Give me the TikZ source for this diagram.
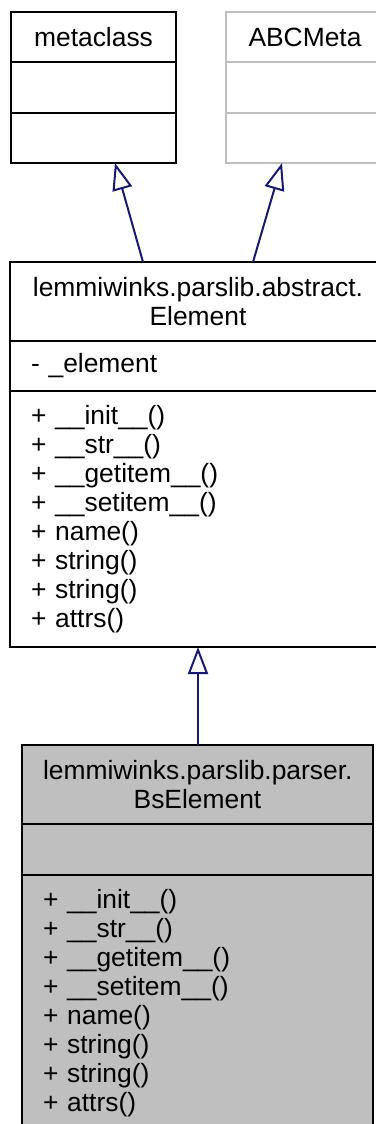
\documentclass[tikz,border=0pt]{standalone}
\usepackage{fontspec}
\setmainfont{Liberation Sans}
\usetikzlibrary{arrows.meta, positioning, calc}
\definecolor{edgeblue}{HTML}{191970}
\definecolor{greyfill}{HTML}{BFBFBF}

\begin{document}
\begin{tikzpicture}[
  x=1pt, y=1pt,
  every node/.style={font=\fontsize{26.4}{29}\selectfont},
  umltitle/.style={
    rectangle, draw, line width=2.5pt, outer sep=0pt,
    inner xsep=21pt, inner ysep=0pt,
    align=center, text width=#1,
  },
  umlpart/.style={
    rectangle, draw, line width=2.5pt, outer sep=0pt,
    inner xsep=21pt, inner ysep=0pt,
    align=left, text width=#1,
  },
  external/.style={draw=greyfill},
  current/.style={fill=greyfill},
  inherit/.style={-{Triangle[open, length=27pt, width=20pt]}, line width=2pt, color=edgeblue},
]
\useasboundingbox (0,0) rectangle (375,-1124);

% Row 1 — base classes
\node[umltitle=123, minimum height=50] (metatitle) at (93.5,-37) {metaclass};
\node[umlpart=123, minimum height=51, below=0pt of metatitle] (metaattr) {};
\node[umlpart=123, minimum height=50, below=0pt of metaattr]  (metaops)  {};

\node[umltitle=116, external, minimum height=50] (abctitle) at (305,-37) {ABCMeta};
\node[umlpart=116, external, minimum height=51, below=0pt of abctitle] (abcattr) {};
\node[umlpart=116, external, minimum height=50, below=0pt of abcattr]  (abcops)  {};

% Row 2 — abstract element
\node[umltitle=334, minimum height=79] (elemtitle) at (198,-301.5)
  {lemmiwinks.parslib.abstract.\\Element};
\node[umlpart=334, minimum height=50, below=0pt of elemtitle] (elemattr) {- \_element};
\node[umlpart=334, minimum height=256, below=0pt of elemattr] (elemops)
  {+ \_\_init\_\_()\\+ \_\_str\_\_()\\+ \_\_getitem\_\_()\\+ \_\_setitem\_\_()\\%
   + name()\\+ string()\\+ string()\\+ attrs()};

% Row 3 — parser element
\node[umltitle=309, current, minimum height=79] (bstitle) at (197.5,-784.5)
  {lemmiwinks.parslib.parser.\\BsElement};
\node[umlpart=309, current, minimum height=51, below=0pt of bstitle] (bsattr) {};
\node[umlpart=309, current, minimum height=256, below=0pt of bsattr] (bsops)
  {+ \_\_init\_\_()\\+ \_\_str\_\_()\\+ \_\_getitem\_\_()\\+ \_\_setitem\_\_()\\%
   + name()\\+ string()\\+ string()\\+ attrs()};

% Arrows — inheritance
\draw[inherit] ($(elemtitle.north)+(-55,0)$) -- ($(metaops.south)+(21.5,0)$);
\draw[inherit] ($(elemtitle.north)+(55,0)$)  -- ($(abcops.south)+(-23,0)$);
\draw[inherit] ($(bstitle.north)+(0.5,0)$)   -- ($(elemops.south)$);

\end{tikzpicture}
\end{document}
